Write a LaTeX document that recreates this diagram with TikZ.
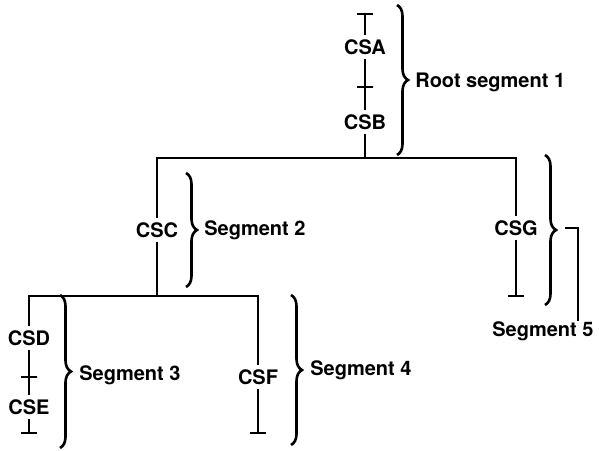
\documentclass[tikz,border=0pt]{standalone}
\usepackage{fontspec}
\setmainfont{TeX Gyre Heros}
\usetikzlibrary{positioning,arrows.meta,decorations.pathreplacing}
\tikzset{
  csnode/.style={inner sep=2pt,font=\fontsize{10}{12}\selectfont\bfseries},
  seglabel/.style={anchor=west,inner sep=0pt,font=\fontsize{10}{12}\selectfont\bfseries},
  crosstick/.style={draw,line width=0.8pt,minimum width=8pt,minimum height=0pt,inner sep=0pt,outer sep=0pt},
  link/.style={line width=0.8pt},
  endlink/.style={line width=0.8pt,-{Bar[width=8pt]}},
  startlink/.style={line width=0.8pt,{Bar[width=8pt]}-},
  segbrace/.style={decorate,decoration={brace,amplitude=5.5pt},line width=1.3pt}
}

\begin{document}
\begin{tikzpicture}[x=0.5pt,y=-0.5pt]
  \useasboundingbox (0,0) rectangle (599,450);

  % root segment
  \coordinate (topA) at (365,13);
  \node[csnode] (csa) at (365,47) {CSA};
  \node[crosstick] (tAB) at (365,87) {};
  \node[csnode] (csb) at (365,122) {CSB};
  \coordinate (jR) at (365,158);

  % second level
  \node[csnode] (csc) at (157,230) {CSC};
  \node[csnode] (csg) at (516,228) {CSG};
  \coordinate (endG) at (516,297);
  \coordinate (jC) at (157,296);

  % third level
  \node[csnode] (csd) at (29,338) {CSD};
  \node[crosstick] (tDE) at (29,377) {};
  \node[csnode] (cse) at (29,407) {CSE};
  \coordinate (endE) at (29,434);
  \node[csnode] (csf) at (258,377) {CSF};
  \coordinate (endF) at (258,434);

  \draw[startlink] (topA) -- (csa);
  \draw[link] (csa) -- (tAB) -- (csb) -- (jR);
  \draw[link] (csc.north) |- (jR) -| (csg.north);
  \draw[endlink] (csg) -- (endG);
  \draw[link] (csc) -- (jC);
  \draw[link] (csd.north) |- (jC) -| (csf.north);
  \draw[link] (csd) -- (tDE) -- (cse);
  \draw[endlink] (cse) -- (endE);
  \draw[endlink] (csf) -- (endF);

  % braces
  \draw[segbrace] (397,5) -- (397,155);
  \draw[segbrace] (186,173) -- (186,287);
  \draw[segbrace] (60,295) -- (60,448);
  \draw[segbrace] (291,295) -- (291,445);
  \draw[segbrace] (545,155) -- (545,305);

  \node[seglabel] (seg1) at (415,82) {Root segment 1};
  \node[seglabel] (seg2) at (204,230) {Segment 2};
  \node[seglabel] (seg3) at (79,375) {Segment 3};
  \node[seglabel] (seg4) at (310,370) {Segment 4};
  \node[seglabel] (seg5) at (492,331) {Segment 5};

  \coordinate (b5tip) at (565,228);
  \coordinate (b5bend) at (578,228);
  \draw[link] (b5tip) -- (b5bend) -- (b5bend |- seg5.north);
\end{tikzpicture}
\end{document}
